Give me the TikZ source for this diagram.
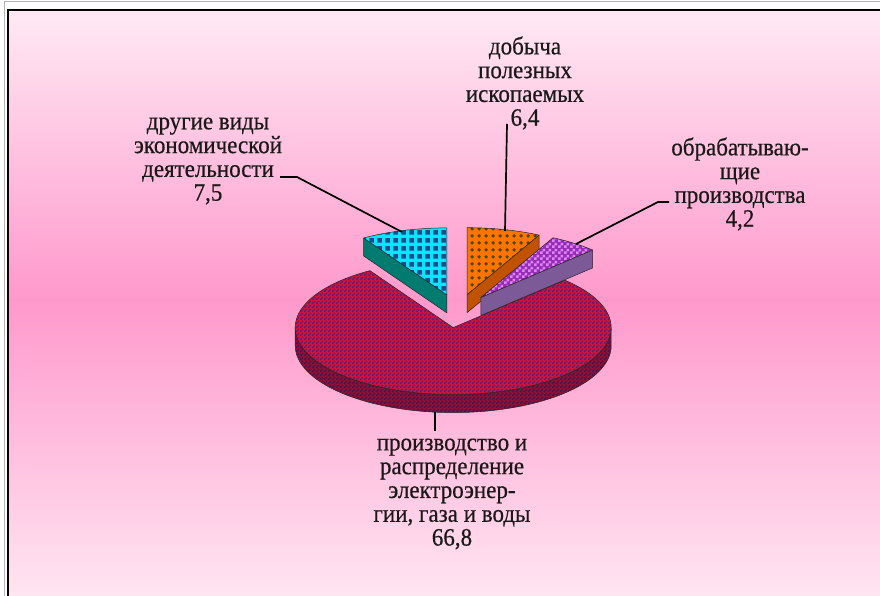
\documentclass[tikz,border=0pt]{standalone}
\usepackage{fontspec}
\setmainfont{Liberation Serif}
\newfontfamily\lblfont[FakeBold=0.5]{Liberation Serif}
\usetikzlibrary{patterns}
\definecolor{pinktop}{HTML}{FFE9F4}
\definecolor{pinkmid}{HTML}{FF99CC}
\definecolor{pinkbot}{HTML}{FFE6F2}
\definecolor{cyanbase}{HTML}{00E8FF}
\definecolor{cyandark}{HTML}{1C4C8C}
\definecolor{tealside}{HTML}{007B70}
\definecolor{orbase}{HTML}{FF7300}
\definecolor{ordot}{HTML}{4A4A00}
\definecolor{orside}{HTML}{C05200}
\definecolor{purbase}{HTML}{9A2AB8}
\definecolor{purlight}{HTML}{D88AF2}
\definecolor{purside}{HTML}{7C5A98}
\definecolor{bigred}{HTML}{D0123C}
\definecolor{bigblue}{HTML}{3A2A90}
\definecolor{bigsidered}{HTML}{8E1034}
\definecolor{bigsideblue}{HTML}{2C1C64}
\pgfdeclarepatternformonly{cyanpat}{\pgfqpoint{0pt}{0pt}}{\pgfqpoint{8pt}{8pt}}{\pgfqpoint{8pt}{8pt}}{%
  \pgfpathrectangle{\pgfqpoint{1.5pt}{1.5pt}}{\pgfqpoint{5pt}{5pt}}\pgfusepath{fill}}
\pgfdeclarepatternformonly{orpat}{\pgfqpoint{0pt}{0pt}}{\pgfqpoint{7pt}{7pt}}{\pgfqpoint{7pt}{7pt}}{%
  \pgfpathcircle{\pgfqpoint{3.5pt}{3.5pt}}{2.1pt}\pgfusepath{fill}}
\pgfdeclarepatternformonly{purpat}{\pgfqpoint{0pt}{0pt}}{\pgfqpoint{6pt}{6pt}}{\pgfqpoint{6pt}{6pt}}{%
  \pgfpathrectangle{\pgfqpoint{0pt}{0pt}}{\pgfqpoint{3pt}{3pt}}%
  \pgfpathrectangle{\pgfqpoint{3pt}{3pt}}{\pgfqpoint{3pt}{3pt}}\pgfusepath{fill}}
\pgfdeclarepatternformonly{finecheck}{\pgfqpoint{0pt}{0pt}}{\pgfqpoint{4pt}{4pt}}{\pgfqpoint{4pt}{4pt}}{%
  \pgfpathrectangle{\pgfqpoint{0pt}{0pt}}{\pgfqpoint{2pt}{2pt}}%
  \pgfpathrectangle{\pgfqpoint{2pt}{2pt}}{\pgfqpoint{2pt}{2pt}}\pgfusepath{fill}}
\tikzset{
  edge/.style={draw=black!85,line width=0.5pt,line join=round},
  bigtop/.style={edge,preaction={fill=bigred},pattern=finecheck,pattern color=bigblue},
  bigside/.style={edge,preaction={fill=bigsidered},pattern=finecheck,pattern color=bigsideblue},
  cyantop/.style={edge,preaction={fill=cyanbase},pattern=cyanpat,pattern color=cyandark},
  cyanside/.style={edge,fill=tealside},
  ortop/.style={edge,preaction={fill=orbase},pattern=orpat,pattern color=ordot},
  orsidest/.style={edge,fill=orside},
  purtop/.style={edge,preaction={fill=purbase},pattern=purpat,pattern color=purlight},
  pursidest/.style={edge,fill=purside},
  lbl/.style={font=\lblfont\fontsize{25}{23.8}\selectfont,align=center,inner sep=0pt,
    text=black!90,xscale=0.92,transform shape},
  leader/.style={draw=black,line width=1.7pt}
}
\begin{document}
\begin{tikzpicture}[x=1pt,y=-1pt]
\useasboundingbox (0,0) rectangle (880,596);
\begin{scope}
\clip (0,0) rectangle (880,596);
\fill[white] (-2,-2) rectangle (884,600);
% background gradient
\shade[top color=pinktop,bottom color=pinkmid] (8,10) rectangle (884,300);
\shade[top color=pinkmid,bottom color=pinkbot] (8,299.5) rectangle (884,600);
% frame
\draw[black!30,line width=1pt] (4,600) -- (4,2) -- (884,2);
\draw[black,line width=1.2pt] (8,600) -- (8,10) -- (884,10);
\end{scope}
% ---- big slice (exploded centre 453.2,327.6)
\def\bx{453.2}\def\by{327.6}
\path[bigside] plot[domain=180:360,samples=80] ({\bx+158*cos(\x)},{\by-67*sin(\x)})
  -- plot[domain=360:180,samples=80] ({\bx+158*cos(\x)},{\by+18-67*sin(\x)}) -- cycle;
\path[bigtop] (\bx,\by) -- plot[domain=45.05:-238.2,samples=160] ({\bx+158*cos(\x)},{\by-67*sin(\x)}) -- cycle;
% ---- cyan slice
\def\cx{446.9}\def\cy{294.9}
\path[cyanside] (\cx,\cy) -- ({\cx+158*cos(121.8)},{\cy-67*sin(121.8)}) -- ({\cx+158*cos(121.8)},{\cy+18-67*sin(121.8)}) -- (\cx,\cy+18) -- cycle;
\path[cyantop] (\cx,\cy) -- plot[domain=90:121.8,samples=30] ({\cx+158*cos(\x)},{\cy-67*sin(\x)}) -- cycle;
% ---- orange slice
\def\ox{467.0}\def\oy{294.7}
\path[orsidest] (\ox,\oy) -- ({\ox+158*cos(62.86)},{\oy-67*sin(62.86)}) -- ({\ox+158*cos(62.86)},{\oy+18-67*sin(62.86)}) -- (\ox,\oy+18) -- cycle;
\path[ortop] (\ox,\oy) -- plot[domain=62.86:90,samples=30] ({\ox+158*cos(\x)},{\oy-67*sin(\x)}) -- cycle;
% ---- purple slice
\def\px{480.9}\def\py{297.4}
\path[pursidest] (\px,\py) -- ({\px+158*cos(45.05)},{\py-67*sin(45.05)}) -- ({\px+158*cos(45.05)},{\py+18-67*sin(45.05)}) -- (\px,\py+18) -- cycle;
\path[purtop] (\px,\py) -- plot[domain=45.05:62.86,samples=20] ({\px+158*cos(\x)},{\py-67*sin(\x)}) -- cycle;
% ---- labels
\node[lbl] (lor) at (525,83) {добыча\\полезных\\ископаемых\\6,4};
\node[lbl] (lcy) at (208,161) {другие виды\\экономической\\деятельности\\7,5};
\node[lbl] (lpu) at (740,184) {обрабатываю-\\щие\\производства\\4,2};
\node[lbl] (lbig) at (452,494) {производство и\\распределение\\электроэнер-\\гии, газа и воды\\66,8};
% ---- leader lines
\coordinate (orA) at (507,124);
\coordinate (orB) at (505,231);
\coordinate (cyA) at (280,177);
\coordinate (cyK) at (297,177);
\coordinate (cyB) at (402,232);
\coordinate (puA) at (669,202);
\coordinate (puK) at (658,202);
\coordinate (puB) at (576,244);
\coordinate (bgA) at (435,412);
\coordinate (bgB) at (435,431);
\draw[leader] (orA) -- (orB);
\draw[leader] (cyA) -- (cyK) -- (cyB);
\draw[leader] (puA) -- (puK) -- (puB);
\draw[leader] (bgA) -- (bgB);
\end{tikzpicture}
\end{document}
